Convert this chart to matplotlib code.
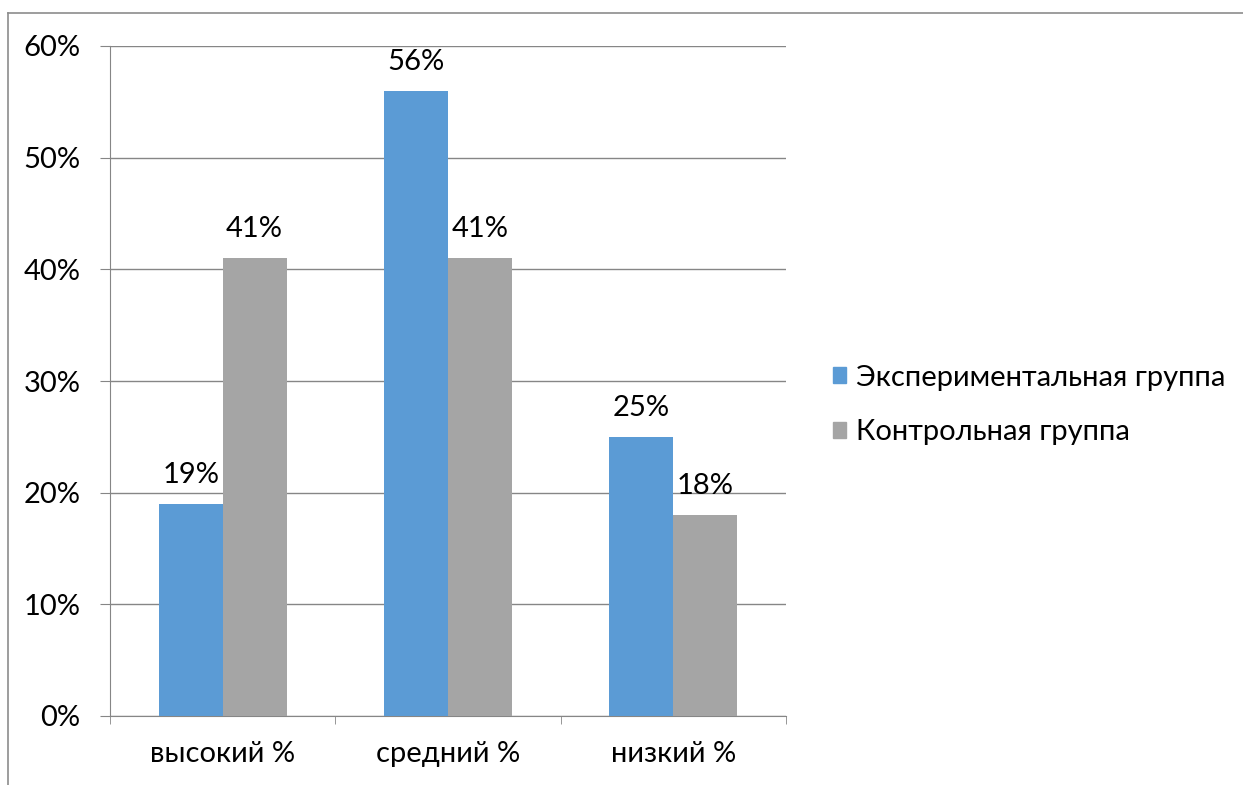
import matplotlib
matplotlib.use("Agg")
import matplotlib.pyplot as plt
import numpy as np
from matplotlib.patches import Rectangle
from matplotlib.lines import Line2D

categories = ["высокий %", "средний %", "низкий %"]
series_names = ["Экспериментальная группа", "Контрольная группа"]
exp_values = [19, 56, 25]
ctrl_values = [41, 41, 18]
yticks = [0, 10, 20, 30, 40, 50, 60]

plt.rcParams['font.family'] = ['Lato', 'DejaVu Sans']

W, H = 1243, 785
FS = 21
fig = plt.figure(figsize=(W/100, H/100), dpi=100)

# outer frame (top and left visible)
fig.add_artist(Line2D([7.5/W, 7.5/W], [0, 1 - 13/H], color="#8c8c8c", lw=1.2, transform=fig.transFigure))
fig.add_artist(Line2D([7.5/W, 1], [1 - 13/H, 1 - 13/H], color="#8c8c8c", lw=1.2, transform=fig.transFigure))

left, right, top, bottom = 110, 786, 46, 716
ax = fig.add_axes([left/W, 1 - bottom/H, (right-left)/W, (bottom-top)/H])

blue = "#5b9bd5"
gray = "#a5a5a5"
x = np.arange(len(categories))
bw = 0.284
ax.bar(x - bw/2, exp_values, bw, color=blue, zorder=3)
ax.bar(x + bw/2, ctrl_values, bw, color=gray, zorder=3)

for xs, vals in ((x - bw/2, exp_values), (x + bw/2, ctrl_values)):
    for xi, v in zip(xs, vals):
        ax.annotate(f"{v}%", (xi, v), xytext=(0, 21), textcoords="offset points",
                    ha="center", va="center", fontsize=FS, color="#000000")

ax.set_xlim(-0.5, 2.5)
ax.set_ylim(0, 60)
ax.set_yticks(yticks)
ax.set_yticklabels([f"{t}%" for t in yticks], fontsize=FS)
ax.yaxis.grid(True, color="#868686", lw=1, zorder=0)
ax.set_xticks(x)
ax.set_xticklabels(categories, fontsize=FS)
ax.tick_params(axis="x", length=0, pad=18)
ax.tick_params(axis="y", length=7.2, color="#868686", pad=14)
ax.set_xticks([-0.5, 0.5, 1.5, 2.5], minor=True)
ax.tick_params(axis="x", which="minor", length=5.5, color="#868686", direction="out")
for s in ["top", "right"]:
    ax.spines[s].set_visible(False)
ax.spines["left"].set_color("#868686")
ax.spines["bottom"].set_color("#868686")

handles = [Rectangle((0, 0), 1, 1, color=blue), Rectangle((0, 0), 1, 1, color=gray)]
fig.legend(handles, series_names, loc="center left", bbox_to_anchor=(833/W, 1 - 405/H),
           frameon=False, fontsize=FS, handlelength=0.45, handleheight=0.45,
           handletextpad=0.35, labelspacing=0.98, borderpad=0, borderaxespad=0)

fig.savefig("out.png", dpi=100)
